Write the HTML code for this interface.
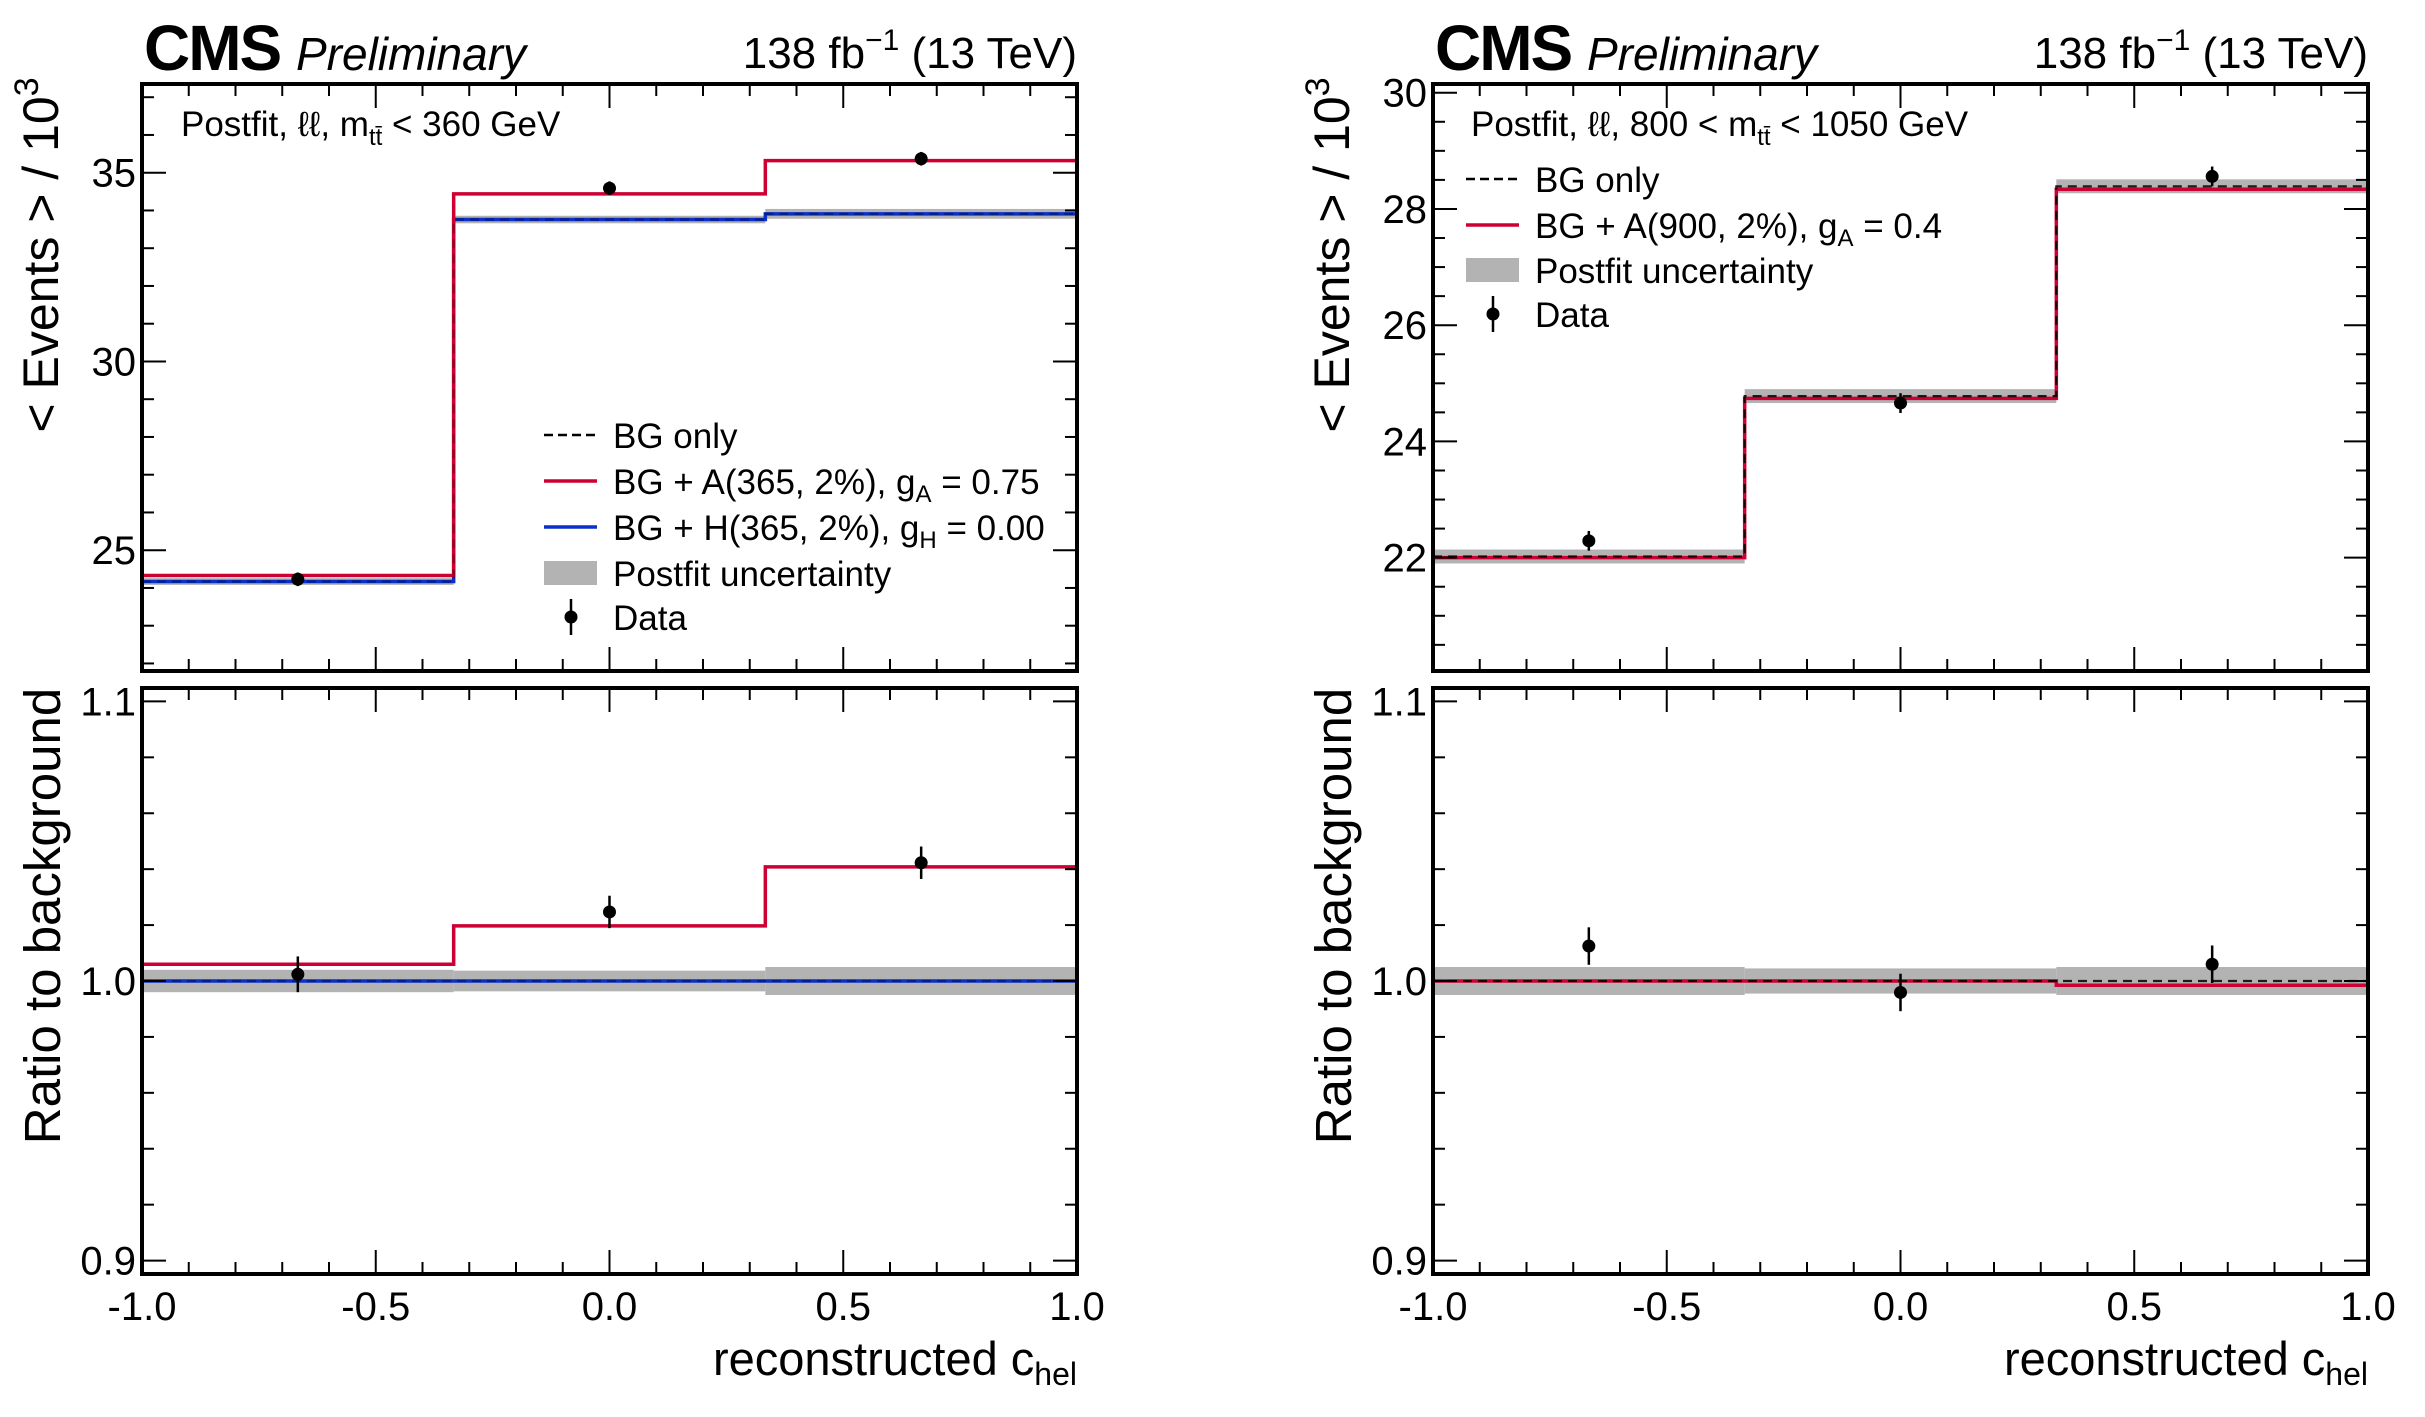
<!DOCTYPE html>
<html><head><meta charset="utf-8"><style>
html,body{margin:0;padding:0;background:#fff;}
svg{display:block;font-family:"Liberation Sans Narrow","Liberation Sans",sans-serif;}
</style></head><body>
<svg id="fig" width="2425" height="1417" viewBox="0 0 2425 1417" xmlns="http://www.w3.org/2000/svg"></svg>
<script>
// ---- data: left (m_tt < 360) ----
const edges = [-1, -1/3, 1/3, 1];
const dataX = [-2/3, 0, 2/3];
const L_bg = [24.17, 33.76, 33.91];
const L_sigA = [24.33, 34.44, 35.32];
const L_sigH = [24.17, 33.76, 33.91];
const L_unc = [0.09, 0.1, 0.13];
const L_data = [24.23, 34.59, 35.37];
const L_dataErr = [0.18, 0.18, 0.18];
const L_ratioA = [1.006, 1.0197, 1.0408];
const L_ratioH = [1.0, 1.0, 1.0];
const L_ratioUnc = [0.004, 0.0037, 0.005];
const L_ratioData = [1.0024, 1.0247, 1.0423];
const L_ratioErr = [0.0064, 0.0058, 0.0058];
// ---- data: right (800 < m_tt < 1050) ----
const R_bg = [22.02, 24.78, 28.39];
const R_sigA = [22.0, 24.74, 28.34];
const R_unc = [0.12, 0.12, 0.12];
const R_data = [22.29, 24.66, 28.56];
const R_dataErr = [0.17, 0.17, 0.17];
const R_ratioA = [1.0, 1.0, 0.9985];
const R_ratioUnc = [0.005, 0.0045, 0.005];
const R_ratioData = [1.0125, 0.9959, 1.006];
const R_ratioErr = [0.0067, 0.0067, 0.0067];
// ---- tick labels ----
const xTicks = [-1.0, -0.5, 0.0, 0.5, 1.0];
const xTickLabels = ["-1.0", "-0.5", "0.0", "0.5", "1.0"];
const L_yTicks = [25, 30, 35];
const R_yTicks = [22, 24, 26, 28, 30];
const ratioTicks = [0.9, 1.0, 1.1];
const ratioTickLabels = ["0.9", "1.0", "1.1"];

const NS = "http://www.w3.org/2000/svg";
const svg = document.getElementById('fig');
const RED = "#cc0033", BLUE = "#0b2fcc", BAND = "#b3b3b3";
function mk(tag, attrs, parent) {
  const e = document.createElementNS(NS, tag);
  for (const k in attrs) e.setAttribute(k, attrs[k]);
  (parent || svg).appendChild(e);
  return e;
}
function scale(d0, d1, r0, r1) { return v => r0 + (v - d0) / (d1 - d0) * (r1 - r0); }

function stepPath(sx, sy, vals) {
  let d = "M" + sx(edges[0]) + "," + sy(vals[0]);
  for (let i = 0; i < vals.length; i++) {
    if (i > 0) d += " V" + sy(vals[i]);
    d += " H" + sx(edges[i + 1]);
  }
  return d;
}

function drawPanel(g, x0, x1, y0, y1, ymin, ymax, majorStep, minorStep, yt, ytl, series) {
  const sx = scale(-1, 1, x0, x1), sy = scale(ymin, ymax, y1, y0);
  for (let i = 0; i < series.bg.length; i++) {
    const r = mk('rect', {x: sx(edges[i]), y: sy(series.bg[i] + series.unc[i]), width: sx(edges[i+1]) - sx(edges[i]), height: sy(series.bg[i] - series.unc[i]) - sy(series.bg[i] + series.unc[i]), fill: BAND}, g);
    
    
  }
  if (series.H) {
    const p = mk('path', {d: stepPath(sx, sy, series.H), fill: 'none', stroke: BLUE, 'stroke-width': 3.5}, g);
    
    
  }
  const pa = mk('path', {d: stepPath(sx, sy, series.A), fill: 'none', stroke: RED, 'stroke-width': 3.5}, g);
  
  
  const pb = mk('path', {d: stepPath(sx, sy, series.bg), fill: 'none', stroke: '#000', 'stroke-width': 2.2, 'stroke-dasharray': '9 6', opacity: series.H ? 0.35 : 0.85}, g);
  
  
  for (let i = 0; i < series.data.length; i++) {
    const cx = sx(dataX[i]);
    const l = mk('line', {x1: cx, x2: cx, y1: sy(series.data[i] + series.err[i]), y2: sy(series.data[i] - series.err[i]), stroke: '#000', 'stroke-width': 2.5}, g);
    
    
    const c = mk('circle', {cx: cx, cy: sy(series.data[i]), r: 6.5, fill: '#000'}, g);
    
    
  }
  for (let k = 0; k <= 20; k++) {
    const v = -1 + k * 0.1, X = sx(v), len = (k % 5 === 0) ? 24 : 12;
    mk('line', {x1: X, x2: X, y1: y1, y2: y1 - len, stroke: '#000', 'stroke-width': 2}, g);
    mk('line', {x1: X, x2: X, y1: y0, y2: y0 + len, stroke: '#000', 'stroke-width': 2}, g);
  }
  const n0 = Math.ceil(ymin / minorStep - 1e-6), n1 = Math.floor(ymax / minorStep + 1e-6);
  for (let n = n0; n <= n1; n++) {
    const v = n * minorStep, Y = sy(v);
    const maj = Math.abs(v / majorStep - Math.round(v / majorStep)) < 1e-6;
    const len = maj ? 24 : 12;
    mk('line', {x1: x0, x2: x0 + len, y1: Y, y2: Y, stroke: '#000', 'stroke-width': 2}, g);
    mk('line', {x1: x1, x2: x1 - len, y1: Y, y2: Y, stroke: '#000', 'stroke-width': 2}, g);
  }
  for (let i = 0; i < yt.length; i++) {
    const t = mk('text', {x: x0 - 6, y: sy(yt[i]) + 14, 'text-anchor': 'end', 'font-size': 40}, g);
    t.textContent = ytl[i];
    
    
  }
  const fr = mk('rect', {x: x0, y: y0, width: x1 - x0, height: y1 - y0, fill: 'none', stroke: '#000', 'stroke-width': 4}, g);
  
  
  return sx;
}

function legendRow(g, x, y, kind, color, label) {
  if (kind === 'dash') mk('line', {x1: x, x2: x + 53, y1: y, y2: y, stroke: '#000', 'stroke-width': 2.5, 'stroke-dasharray': '9 5'}, g);
  if (kind === 'line') mk('line', {x1: x, x2: x + 53, y1: y, y2: y, stroke: color, 'stroke-width': 3.5}, g);
  if (kind === 'band') mk('rect', {x: x, y: y - 12, width: 53, height: 24, fill: BAND}, g);
  if (kind === 'data') { mk('line', {x1: x + 27, x2: x + 27, y1: y - 18, y2: y + 18, stroke: '#000', 'stroke-width': 2.5}, g); mk('circle', {cx: x + 27, cy: y, r: 6.5, fill: '#000'}, g); }
  const t = mk('text', {x: x + 69, y: y + 13, 'font-size': 35, 'font-family': '"Liberation Sans",sans-serif'}, g);
  t.innerHTML = label;
  return t;
}

function header(g, x0, x1) {
  const c = mk('text', {x: x0 + 2, y: 70, 'font-size': 64, 'font-weight': 'bold', 'font-family': '"Liberation Sans",sans-serif', 'letter-spacing': '-2'}, g);
  c.innerHTML = 'CMS <tspan font-weight="normal" font-style="italic" font-size="46" letter-spacing="0">Preliminary</tspan>';
  
  
  const l = mk('text', {x: x1, y: 68, 'text-anchor': 'end', 'font-size': 44, 'font-family': '"Liberation Sans",sans-serif'}, g);
  l.innerHTML = '138 fb<tspan dy="-18" font-size="30">\u22121</tspan><tspan dy="18"> (13 TeV)</tspan>';
  
  
}

function axisTitles(g, x0, x1, tx) {
  const ty = mk('text', {transform: 'translate(' + tx + ',255) rotate(-90)', 'text-anchor': 'middle', 'font-size': 50, 'font-family': '"Liberation Sans",sans-serif'}, g);
  ty.innerHTML = '&lt; Events &gt;  / 10<tspan dy="-20" font-size="34">3</tspan>';
  
  
  const tr = mk('text', {transform: 'translate(' + (tx + 2) + ',916) rotate(-90)', 'text-anchor': 'middle', 'font-size': 51, 'font-family': '"Liberation Sans",sans-serif'}, g);
  tr.textContent = 'Ratio to background';
  
  
  const sx = scale(-1, 1, x0, x1);
  for (let i = 0; i < xTicks.length; i++) {
    const t = mk('text', {x: sx(xTicks[i]), y: 1320, 'text-anchor': 'middle', 'font-size': 40}, g);
    t.textContent = xTickLabels[i];
    
    
  }
  const xt = mk('text', {x: x1, y: 1375, 'text-anchor': 'end', 'font-size': 47}, g);
  xt.innerHTML = 'reconstructed c<tspan dy="10" font-size="32">hel</tspan>';
  
  
}

// LEFT
const gL = mk('g', {});


const LX0 = 142, LX1 = 1077;
drawPanel(gL, LX0, LX1, 84, 671, 21.8, 37.35, 5, 1, L_yTicks, L_yTicks.map(String), {bg: L_bg, unc: L_unc, A: L_sigA, H: L_sigH, data: L_data, err: L_dataErr});
drawPanel(gL, LX0, LX1, 688, 1274, 0.8952, 1.1048, 0.1, 0.02, ratioTicks, ratioTickLabels, {bg: [1, 1, 1], unc: L_ratioUnc, A: L_ratioA, H: L_ratioH, data: L_ratioData, err: L_ratioErr});
header(gL, LX0, LX1);
axisTitles(gL, LX0, LX1, 58);
const annL = mk('text', {x: 181, y: 136, 'font-size': 35, 'font-family': '"Liberation Sans",sans-serif'}, gL);
annL.innerHTML = 'Postfit, \u2113\u2113, m<tspan dy="9" font-size="24">t\u0074\u0304</tspan><tspan dy="-9"> &lt; 360 GeV</tspan>';


const legL = mk('g', {}, gL);


legendRow(legL, 544, 435, 'dash', '#000', 'BG only');
legendRow(legL, 544, 481, 'line', RED, 'BG + A(365, 2%), g<tspan dy="8" font-size="24">A</tspan><tspan dy="-8"> = 0.75</tspan>');
legendRow(legL, 544, 527, 'line', BLUE, 'BG + H(365, 2%), g<tspan dy="8" font-size="24">H</tspan><tspan dy="-8"> = 0.00</tspan>');
legendRow(legL, 544, 573, 'band', BAND, 'Postfit uncertainty');
legendRow(legL, 544, 617, 'data', '#000', 'Data');

// RIGHT
const gR = mk('g', {});


const RX0 = 1433, RX1 = 2368;
drawPanel(gR, RX0, RX1, 84, 671, 20.05, 30.15, 2, 0.5, R_yTicks, R_yTicks.map(String), {bg: R_bg, unc: R_unc, A: R_sigA, H: null, data: R_data, err: R_dataErr});
drawPanel(gR, RX0, RX1, 688, 1274, 0.8952, 1.1048, 0.1, 0.02, ratioTicks, ratioTickLabels, {bg: [1, 1, 1], unc: R_ratioUnc, A: R_ratioA, H: null, data: R_ratioData, err: R_ratioErr});
header(gR, RX0, RX1);
axisTitles(gR, RX0, RX1, 1349);
const annR = mk('text', {x: 1471, y: 136, 'font-size': 35, 'font-family': '"Liberation Sans",sans-serif'}, gR);
annR.innerHTML = 'Postfit, \u2113\u2113, 800 &lt; m<tspan dy="9" font-size="24">t\u0074\u0304</tspan><tspan dy="-9"> &lt; 1050 GeV</tspan>';


const legR = mk('g', {}, gR);


legendRow(legR, 1466, 179, 'dash', '#000', 'BG only');
legendRow(legR, 1466, 225, 'line', RED, 'BG + A(900, 2%), g<tspan dy="8" font-size="24">A</tspan><tspan dy="-8"> = 0.4</tspan>');
legendRow(legR, 1466, 270, 'band', BAND, 'Postfit uncertainty');
legendRow(legR, 1466, 314, 'data', '#000', 'Data');
</script>
</body></html>
